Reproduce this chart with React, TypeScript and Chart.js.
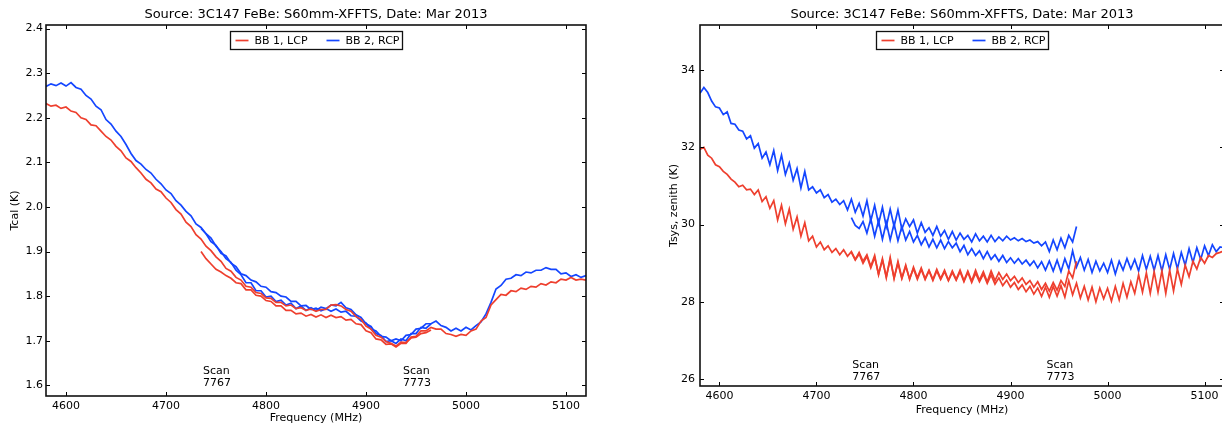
import React, { useEffect, useRef } from "react";
import { Chart, registerables } from "chart.js";

Chart.register(...registerables);

// ---------------- data ----------------
const TITLE = "Source: 3C147 FeBe: S60mm-XFFTS, Date: Mar 2013";
const LEGEND_LABELS = ["BB 1, LCP", "BB 2, RCP"];
const X_TICKS = [4600, 4700, 4800, 4900, 5000, 5100];
const TCAL_TICKS = [1.6, 1.7, 1.8, 1.9, 2.0, 2.1, 2.2, 2.3, 2.4];
const TSYS_TICKS = [26, 28, 30, 32, 34];
const SCAN_IDS = ["7767", "7773"];
const SCAN_FREQS = [4737, 4937];

// Tcal (left) sampled every 5 MHz
const TCAL_STEP = 5;
const TCAL_SCAN1_START = 4580; // scan 7767
const TCAL_SCAN2_START = 4735; // scan 7773

const tcalLcp7767 = [
  2.232, 2.226, 2.228, 2.221, 2.224, 2.215, 2.212, 2.2, 2.196, 2.184,
  2.182, 2.17, 2.158, 2.15, 2.136, 2.126, 2.11, 2.102, 2.088, 2.076,
  2.062, 2.054, 2.04, 2.034, 2.02, 2.01, 1.994, 1.984, 1.966, 1.956,
  1.938, 1.928, 1.912, 1.902, 1.888, 1.878, 1.862, 1.856, 1.842, 1.836,
  1.822, 1.82, 1.808, 1.806, 1.796, 1.795, 1.786, 1.786, 1.778, 1.78,
  1.772, 1.774, 1.768, 1.771, 1.766, 1.77, 1.77, 1.78, 1.781, 1.778,
  1.77, 1.766, 1.754, 1.748, 1.733, 1.726, 1.712, 1.708, 1.698, 1.694,
  1.688, 1.697, 1.696, 1.706, 1.708, 1.716, 1.718, 1.724,
];
const tcalRcp7767 = [
  2.27, 2.276, 2.272, 2.278, 2.271, 2.279, 2.268, 2.264, 2.25, 2.242,
  2.226, 2.218, 2.196, 2.186, 2.17, 2.158, 2.14, 2.12, 2.104, 2.096,
  2.084, 2.076, 2.062, 2.052, 2.038, 2.03, 2.014, 2.004, 1.99, 1.98,
  1.962, 1.954, 1.94, 1.93, 1.912, 1.9, 1.884, 1.876, 1.858, 1.848,
  1.83, 1.83, 1.812, 1.812, 1.798, 1.8, 1.788, 1.791, 1.78, 1.784,
  1.772, 1.778, 1.768, 1.774, 1.768, 1.775, 1.772, 1.78, 1.778, 1.786,
  1.774, 1.77, 1.758, 1.752, 1.738, 1.732, 1.716, 1.712, 1.698, 1.7,
  1.694, 1.704, 1.7, 1.716, 1.716, 1.73, 1.728, 1.738,
];
const tcalLcp7773 = [
  1.9, 1.884, 1.872, 1.86, 1.854, 1.846, 1.84, 1.83, 1.828, 1.814,
  1.814, 1.802, 1.8, 1.79, 1.788, 1.778, 1.778, 1.768, 1.768, 1.76,
  1.762, 1.755, 1.759, 1.753, 1.758, 1.752, 1.757, 1.752, 1.754, 1.746,
  1.748, 1.738, 1.736, 1.722, 1.718, 1.704, 1.702, 1.692, 1.693, 1.686,
  1.694, 1.694, 1.708, 1.71, 1.722, 1.722, 1.73, 1.726, 1.726, 1.716,
  1.714, 1.71, 1.714, 1.712, 1.722, 1.726, 1.744, 1.752, 1.78, 1.792,
  1.804, 1.802, 1.812, 1.81, 1.818, 1.815, 1.822, 1.82, 1.828, 1.825,
  1.832, 1.83, 1.838, 1.836, 1.842, 1.836, 1.838, 1.836,
];
const tcalRcp7773 = [
  1.952, 1.94, 1.922, 1.914, 1.896, 1.89, 1.874, 1.866, 1.85, 1.846,
  1.836, 1.832, 1.822, 1.82, 1.81, 1.808, 1.8, 1.798, 1.788, 1.788,
  1.778, 1.779, 1.77, 1.773, 1.767, 1.772, 1.766, 1.771, 1.764, 1.766,
  1.756, 1.755, 1.744, 1.74, 1.726, 1.722, 1.71, 1.708, 1.7, 1.704,
  1.7, 1.712, 1.714, 1.726, 1.728, 1.738, 1.738, 1.744, 1.734, 1.73,
  1.722, 1.728, 1.722, 1.73, 1.724, 1.734, 1.742, 1.76, 1.786, 1.816,
  1.824, 1.838, 1.84, 1.848, 1.846, 1.854, 1.852, 1.858, 1.858, 1.864,
  1.86, 1.86, 1.85, 1.852, 1.844, 1.848, 1.842, 1.846,
];

// Tsys (right) sampled every 4 MHz
const TSYS_STEP = 4;
const TSYS_SCAN1_START = 4580; // scan 7767
const TSYS_SCAN2_START = 4736; // scan 7773

const tsysLcp7767 = [
  31.95, 32.0, 31.8, 31.72, 31.55, 31.5, 31.38, 31.3, 31.18, 31.1,
  30.98, 31.02, 30.9, 30.92, 30.78, 30.9, 30.6, 30.72, 30.42, 30.62,
  30.12, 30.5, 30.02, 30.4, 29.88, 30.2, 29.7, 30.05, 29.58, 29.7,
  29.42, 29.55, 29.35, 29.45, 29.28, 29.38, 29.22, 29.35, 29.18, 29.3,
  29.1, 29.28, 29.05, 29.22, 28.92, 29.2, 28.7, 29.12, 28.62, 29.15,
  28.6, 29.05, 28.62, 28.95, 28.58, 28.9, 28.62, 28.88, 28.6, 28.82,
  28.58, 28.84, 28.6, 28.82, 28.56, 28.8, 28.58, 28.82, 28.55, 28.8,
  28.54, 28.82, 28.56, 28.78, 28.52, 28.8, 28.55, 28.76, 28.58, 28.72,
  28.55, 28.66, 28.5, 28.62, 28.45, 28.55, 28.38, 28.52, 28.32, 28.48,
  28.28, 28.5, 28.3, 28.55, 28.4, 28.8, 28.62, 29.05,
];
const tsysRcp7767 = [
  33.4, 33.55, 33.42, 33.2, 33.05, 33.02, 32.85, 32.92, 32.62, 32.6,
  32.45, 32.42, 32.22, 32.3, 31.98, 32.1, 31.72, 31.88, 31.55, 31.92,
  31.4, 31.8, 31.3, 31.6, 31.15, 31.45, 30.95, 31.38, 30.9, 30.98,
  30.82, 30.9, 30.7, 30.78, 30.58, 30.66, 30.52, 30.62, 30.38, 30.66,
  30.32, 30.55, 30.22, 30.62, 30.1, 30.5, 30.02, 30.45, 29.95, 30.4,
  29.95, 30.38, 29.88, 30.15, 29.95, 30.12, 29.78, 30.05, 29.8, 29.92,
  29.72, 29.95, 29.7, 29.85, 29.62, 29.82, 29.6, 29.78, 29.62, 29.72,
  29.55, 29.76, 29.58, 29.7, 29.55, 29.72, 29.56, 29.68, 29.58, 29.7,
  29.6, 29.66, 29.58, 29.64, 29.56, 29.6, 29.52, 29.56, 29.45, 29.55,
  29.3, 29.6, 29.35, 29.65, 29.4, 29.72, 29.55, 29.95,
];
const tsysLcp7773 = [
  29.28, 29.08, 29.24, 29.0, 29.18, 28.88, 29.15, 28.72, 29.08, 28.65,
  29.1, 28.62, 29.0, 28.6, 28.92, 28.6, 28.86, 28.58, 28.84, 28.58,
  28.8, 28.55, 28.8, 28.58, 28.78, 28.55, 28.76, 28.56, 28.78, 28.52,
  28.76, 28.5, 28.74, 28.52, 28.72, 28.48, 28.7, 28.46, 28.62, 28.42,
  28.56, 28.38, 28.5, 28.32, 28.44, 28.26, 28.4, 28.2, 28.36, 28.14,
  28.38, 28.12, 28.4, 28.15, 28.42, 28.12, 28.55, 28.18, 28.48, 28.1,
  28.4, 28.05, 28.38, 28.0, 28.36, 28.08, 28.35, 28.02, 28.4, 28.05,
  28.48, 28.12, 28.52, 28.22, 28.7, 28.25, 28.75, 28.22, 28.78, 28.25,
  28.8, 28.22, 28.82, 28.28, 28.85, 28.45, 28.95, 28.65, 29.05, 28.85,
  29.15, 29.0, 29.2, 29.15, 29.25, 29.28, 29.32,
];
const tsysRcp7773 = [
  30.18, 29.98, 29.9, 30.08, 29.78, 30.15, 29.7, 30.1, 29.62, 30.05,
  29.6, 30.02, 29.58, 29.95, 29.6, 29.82, 29.55, 29.72, 29.48, 29.66,
  29.42, 29.62, 29.4, 29.6, 29.38, 29.56, 29.4, 29.52, 29.3, 29.46,
  29.22, 29.38, 29.2, 29.32, 29.12, 29.3, 29.1, 29.22, 29.05, 29.2,
  29.02, 29.14, 29.0, 29.12, 28.98, 29.08, 28.94, 29.06, 28.88, 29.04,
  28.82, 29.06, 28.8, 29.08, 28.78, 29.12, 28.85, 29.32, 28.9, 29.15,
  28.82, 29.1, 28.76, 29.05, 28.8, 29.0, 28.76, 29.08, 28.72, 29.05,
  28.82, 29.12, 28.85, 29.1, 28.8, 29.2, 28.84, 29.18, 28.82, 29.2,
  28.8, 29.22, 28.84, 29.25, 28.86, 29.28, 28.95, 29.38, 29.02, 29.4,
  29.1, 29.45, 29.2, 29.48, 29.3, 29.42, 29.4,
];

// ---------------- styling ----------------
const FONT = "'DejaVu Sans', 'Bitstream Vera Sans', Verdana, sans-serif";
const RED = "#ee3f2e";
const BLUE = "#1446ff";
const INK = "#000000";

type PanelCfg = {
  pageLeft: number;
  W: number;
  H: number;
  plotLeft: number;
  plotRight: number;
  plotTop: number;
  plotBottom: number;
  yMin: number;
  yMax: number;
  yTicks: number[];
  yDecimals: number;
  yLabelPad: number;
  yTitle: string;
  yTitleX: number;
  xTitleY: number;
  scanTextY: [number, number];
};

const LEFT_PANEL: PanelCfg = {
  pageLeft: 0,
  W: 610,
  H: 425,
  plotLeft: 46,
  plotRight: 586,
  plotTop: 25,
  plotBottom: 396,
  yMin: 1.576,
  yMax: 2.408,
  yTicks: TCAL_TICKS,
  yDecimals: 1,
  yLabelPad: 3,
  yTitle: "Tcal (K)",
  yTitleX: 15,
  xTitleY: 418,
  scanTextY: [1.631, 1.604],
};

const RIGHT_PANEL: PanelCfg = {
  pageLeft: 620,
  W: 620,
  H: 425,
  plotLeft: 80,
  plotRight: 604,
  plotTop: 25,
  plotBottom: 386,
  yMin: 25.82,
  yMax: 35.17,
  yTicks: TSYS_TICKS,
  yDecimals: 0,
  yLabelPad: 5,
  yTitle: "Tsys, zenith (K)",
  yTitleX: 54,
  xTitleY: 410,
  scanTextY: [26.37, 26.06],
};

function series(start: number, step: number, values: number[]) {
  return values.map((y, i) => ({ x: start + i * step, y }));
}

function lineDs(label: string, color: string, data: { x: number; y: number }[]) {
  return {
    label,
    data,
    borderColor: color,
    backgroundColor: color,
    borderWidth: 1.7,
    pointRadius: 0,
    pointHoverRadius: 0,
    tension: 0,
    fill: false,
  };
}

function makeOverlay(cfg: PanelCfg) {
  return {
    id: "mplOverlay",
    afterDraw(chart: any) {
      const ctx: CanvasRenderingContext2D = chart.ctx;
      const { left, right, top, bottom } = chart.chartArea;
      const xs = chart.scales.x;
      const ys = chart.scales.y;
      ctx.save();

      // inward tick marks
      ctx.strokeStyle = INK;
      ctx.lineWidth = 1;
      const tl = 4;
      X_TICKS.forEach((v) => {
        const px = Math.round(xs.getPixelForValue(v)) + 0.5;
        ctx.beginPath();
        ctx.moveTo(px, bottom);
        ctx.lineTo(px, bottom - tl);
        ctx.moveTo(px, top);
        ctx.lineTo(px, top + tl);
        ctx.stroke();
      });
      cfg.yTicks.forEach((v) => {
        const py = Math.round(ys.getPixelForValue(v)) + 0.5;
        ctx.beginPath();
        ctx.moveTo(left, py);
        ctx.lineTo(left + tl, py);
        ctx.moveTo(right, py);
        ctx.lineTo(right - tl, py);
        ctx.stroke();
      });

      // frame
      ctx.strokeStyle = "#111111";
      ctx.lineWidth = 1.6;
      ctx.strokeRect(left, top, right - left, bottom - top);

      ctx.fillStyle = INK;
      ctx.textBaseline = "middle";

      // title
      ctx.font = `13px ${FONT}`;
      ctx.textAlign = "center";
      const cx = (left + right) / 2;
      ctx.fillText(TITLE, cx, 15);

      // x axis title
      ctx.font = `11px ${FONT}`;
      ctx.fillText("Frequency (MHz)", cx, cfg.xTitleY);

      // y axis title
      ctx.save();
      ctx.translate(cfg.yTitleX, (top + bottom) / 2);
      ctx.rotate(-Math.PI / 2);
      ctx.fillText(cfg.yTitle, 0, 0);
      ctx.restore();

      // scan annotations
      ctx.textAlign = "left";
      ctx.font = `11px ${FONT}`;
      SCAN_FREQS.forEach((f, i) => {
        const px = xs.getPixelForValue(f);
        ctx.fillText("Scan", px, ys.getPixelForValue(cfg.scanTextY[0]));
        ctx.fillText(SCAN_IDS[i], px, ys.getPixelForValue(cfg.scanTextY[1]));
      });

      // legend
      const lw = 172;
      const lh = 18;
      const lx = Math.round(cx - lw / 2) + 0.5;
      const ly = 31.5;
      ctx.fillStyle = "#ffffff";
      ctx.fillRect(lx, ly, lw, lh);
      ctx.strokeStyle = "#111111";
      ctx.lineWidth = 1.3;
      ctx.strokeRect(lx, ly, lw, lh);
      const my = ly + lh / 2;
      const items = [
        { label: LEGEND_LABELS[0], color: RED, off: 5 },
        { label: LEGEND_LABELS[1], color: BLUE, off: 96 },
      ];
      items.forEach((it) => {
        ctx.strokeStyle = it.color;
        ctx.lineWidth = 1.7;
        ctx.beginPath();
        ctx.moveTo(lx + it.off, my);
        ctx.lineTo(lx + it.off + 13, my);
        ctx.stroke();
        ctx.fillStyle = INK;
        ctx.textAlign = "left";
        ctx.font = `11px ${FONT}`;
        ctx.fillText(it.label, lx + it.off + 19, my + 0.5);
      });

      ctx.restore();
    },
  };
}

function buildChart(canvas: HTMLCanvasElement, cfg: PanelCfg, datasets: any[]) {
  return new Chart(canvas, {
    type: "line",
    data: { datasets },
    plugins: [makeOverlay(cfg)],
    options: {
      animation: false,
      responsive: false,
      maintainAspectRatio: false,
      devicePixelRatio: 1,
      events: [],
      layout: {
        padding: { top: cfg.plotTop, right: cfg.W - cfg.plotRight, left: 0, bottom: 0 },
      },
      plugins: {
        legend: { display: false },
        title: { display: false },
        tooltip: { enabled: false },
      },
      scales: {
        x: {
          type: "linear",
          min: 4580,
          max: 5120,
          grid: { display: false, drawTicks: false },
          border: { display: false },
          ticks: {
            padding: 4,
            autoSkip: false,
            maxRotation: 0,
            color: INK,
            font: { family: FONT, size: 11 },
            callback: (v: any) => String(v),
          },
          afterBuildTicks: (s: any) => {
            s.ticks = X_TICKS.map((v) => ({ value: v }));
          },
          afterFit: (s: any) => {
            s.height = cfg.H - cfg.plotBottom;
          },
        },
        y: {
          type: "linear",
          min: cfg.yMin,
          max: cfg.yMax,
          grid: { display: false, drawTicks: false },
          border: { display: false },
          ticks: {
            padding: cfg.yLabelPad,
            autoSkip: false,
            color: INK,
            font: { family: FONT, size: 11 },
            callback: (v: any) => Number(v).toFixed(cfg.yDecimals),
          },
          afterBuildTicks: (s: any) => {
            s.ticks = cfg.yTicks.map((v) => ({ value: v }));
          },
          afterFit: (s: any) => {
            s.width = cfg.plotLeft;
          },
        },
      },
    } as any,
  });
}

export default function App() {
  const leftRef = useRef<HTMLCanvasElement>(null);
  const rightRef = useRef<HTMLCanvasElement>(null);

  useEffect(() => {
    const left = buildChart(leftRef.current!, LEFT_PANEL, [
      lineDs(LEGEND_LABELS[0], RED, series(TCAL_SCAN1_START, TCAL_STEP, tcalLcp7767)),
      lineDs(LEGEND_LABELS[1], BLUE, series(TCAL_SCAN1_START, TCAL_STEP, tcalRcp7767)),
      lineDs(LEGEND_LABELS[0], RED, series(TCAL_SCAN2_START, TCAL_STEP, tcalLcp7773)),
      lineDs(LEGEND_LABELS[1], BLUE, series(TCAL_SCAN2_START, TCAL_STEP, tcalRcp7773)),
    ]);
    const right = buildChart(rightRef.current!, RIGHT_PANEL, [
      lineDs(LEGEND_LABELS[0], RED, series(TSYS_SCAN1_START, TSYS_STEP, tsysLcp7767)),
      lineDs(LEGEND_LABELS[1], BLUE, series(TSYS_SCAN1_START, TSYS_STEP, tsysRcp7767)),
      lineDs(LEGEND_LABELS[0], RED, series(TSYS_SCAN2_START, TSYS_STEP, tsysLcp7773)),
      lineDs(LEGEND_LABELS[1], BLUE, series(TSYS_SCAN2_START, TSYS_STEP, tsysRcp7773)),
    ]);
    return () => {
      left.destroy();
      right.destroy();
    };
  }, []);

  const box = (cfg: PanelCfg): React.CSSProperties => ({
    position: "absolute",
    left: cfg.pageLeft,
    top: 0,
    width: cfg.W,
    height: cfg.H,
  });

  return (
    <div
      style={{
        position: "absolute",
        left: 0,
        top: 0,
        width: 1222,
        height: 425,
        overflow: "hidden",
        background: "#ffffff",
      }}
    >
      <div style={box(LEFT_PANEL)}>
        <canvas
          ref={leftRef}
          width={LEFT_PANEL.W}
          height={LEFT_PANEL.H}
          style={{ width: LEFT_PANEL.W, height: LEFT_PANEL.H, display: "block" }}
        />
      </div>
      <div style={box(RIGHT_PANEL)}>
        <canvas
          ref={rightRef}
          width={RIGHT_PANEL.W}
          height={RIGHT_PANEL.H}
          style={{ width: RIGHT_PANEL.W, height: RIGHT_PANEL.H, display: "block" }}
        />
      </div>
    </div>
  );
}
